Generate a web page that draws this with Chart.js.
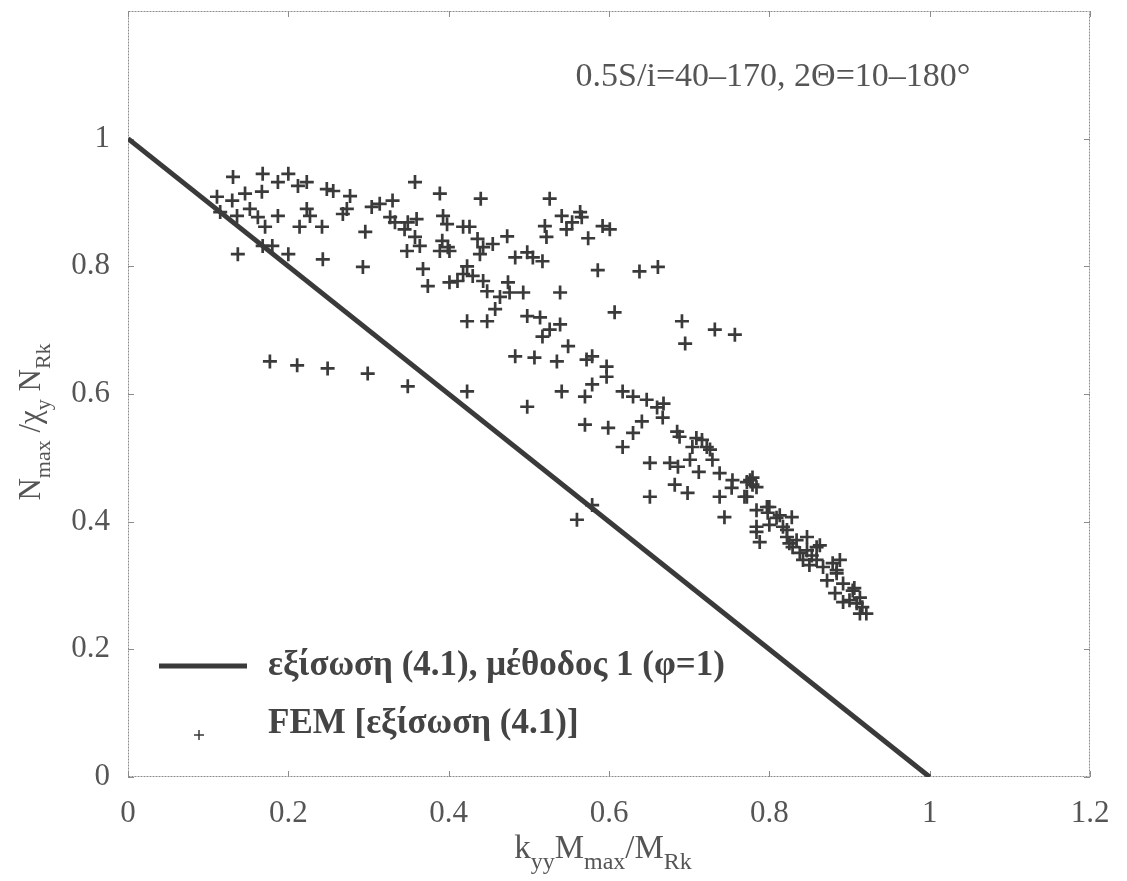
<!DOCTYPE html>
<html>
<head>
<meta charset="utf-8">
<script src="https://cdn.jsdelivr.net/npm/chart.js@4.4.0/dist/chart.umd.min.js"></script>
<style>
  html, body { margin: 0; padding: 0; background: #fff; }
  #chart { display: block; }
</style>
</head>
<body>
<canvas id="chart" width="1127" height="881"></canvas>
<script>
const xTicks = [0, 0.2, 0.4, 0.6, 0.8, 1, 1.2];
const yTicks = [0, 0.2, 0.4, 0.6, 0.8, 1];

// equation (4.1), method 1 (phi = 1)
const lineX = [0, 1];
const lineY = [1, 0];

// FEM results
const femX = [
  0.131, 0.168, 0.187, 0.200, 0.212, 0.223, 0.248, 0.256, 0.277, 0.273, 0.268, 0.111, 0.130, 0.146, 0.167,
  0.115, 0.136, 0.152, 0.162, 0.171, 0.187, 0.223, 0.227, 0.214, 0.242, 0.137, 0.168, 0.180, 0.200, 0.243,
  0.177, 0.211, 0.249, 0.299,
  0.358, 0.389, 0.440, 0.304, 0.314, 0.330, 0.327, 0.333, 0.349, 0.360, 0.393, 0.398, 0.418, 0.426, 0.345,
  0.358, 0.364, 0.296, 0.392, 0.399, 0.389, 0.401, 0.436, 0.443, 0.455, 0.439, 0.473, 0.348, 0.293, 0.368,
  0.423, 0.418, 0.430, 0.483, 0.374, 0.401, 0.411, 0.443, 0.448, 0.474, 0.476, 0.464, 0.458, 0.423, 0.448,
  0.498, 0.514, 0.526, 0.539, 0.517, 0.549, 0.483, 0.507, 0.535, 0.349, 0.423, 0.541, 0.493, 0.539,
  0.526, 0.541, 0.564, 0.566, 0.520, 0.522, 0.547, 0.554, 0.592, 0.601, 0.574, 0.498, 0.505, 0.517,
  0.586, 0.638, 0.661, 0.607, 0.691, 0.732, 0.757, 0.695, 0.572, 0.597, 0.597, 0.570, 0.579, 0.498, 0.617,
  0.630, 0.647, 0.660, 0.667, 0.570, 0.599, 0.630, 0.641, 0.685, 0.709, 0.617,
  0.579, 0.651, 0.676, 0.686, 0.704, 0.716, 0.726, 0.729, 0.701, 0.738, 0.754, 0.776, 0.784, 0.797, 0.682,
  0.698, 0.651, 0.738, 0.744, 0.560, 0.579, 0.784, 0.788,
  0.688, 0.722, 0.753, 0.772, 0.784, 0.809, 0.828, 0.784, 0.800, 0.817, 0.822, 0.834, 0.847, 0.859, 0.829,
  0.847, 0.842, 0.859, 0.867, 0.879, 0.888, 0.884, 0.892, 0.904, 0.900, 0.913, 0.916, 0.921,
  0.822, 0.825, 0.838, 0.853, 0.850, 0.872, 0.882, 0.892, 0.909, 0.913,
  0.772, 0.779, 0.798, 0.779, 0.769, 0.800, 0.813, 0.863, 0.884, 0.906, 0.668, 0.712
];
const femY = [
  0.940, 0.945, 0.932, 0.945, 0.926, 0.932, 0.921, 0.918, 0.910, 0.890, 0.882, 0.909, 0.903, 0.914, 0.917,
  0.885, 0.879, 0.890, 0.877, 0.862, 0.879, 0.890, 0.879, 0.862, 0.862, 0.819, 0.832, 0.832, 0.819, 0.811,
  0.651, 0.645, 0.640, 0.632,
  0.932, 0.914, 0.906, 0.893, 0.898, 0.903, 0.877, 0.869, 0.869, 0.874, 0.879, 0.866, 0.862, 0.862, 0.858,
  0.846, 0.832, 0.854, 0.840, 0.830, 0.824, 0.824, 0.843, 0.830, 0.835, 0.819, 0.847, 0.824, 0.799, 0.796,
  0.800, 0.788, 0.785, 0.814, 0.769, 0.775, 0.777, 0.777, 0.761, 0.775, 0.759, 0.752, 0.733, 0.714, 0.714,
  0.722, 0.720, 0.701, 0.709, 0.690, 0.675, 0.659, 0.657, 0.651, 0.612, 0.604, 0.604, 0.759, 0.759,
  0.906, 0.879, 0.885, 0.877, 0.863, 0.846, 0.858, 0.869, 0.863, 0.858, 0.844, 0.822, 0.814, 0.808,
  0.794, 0.792, 0.799, 0.728, 0.714, 0.701, 0.693, 0.679, 0.654, 0.643, 0.627, 0.596, 0.615, 0.580, 0.604,
  0.596, 0.591, 0.579, 0.563, 0.552, 0.547, 0.539, 0.557, 0.541, 0.531, 0.517,
  0.659, 0.492, 0.492, 0.486, 0.517, 0.528, 0.513, 0.497, 0.497, 0.476, 0.465, 0.465, 0.454, 0.423, 0.458,
  0.445, 0.439, 0.439, 0.407, 0.403, 0.426, 0.384, 0.368,
  0.533, 0.517, 0.453, 0.439, 0.418, 0.406, 0.407, 0.392, 0.395, 0.392, 0.376, 0.371, 0.376, 0.360, 0.360,
  0.355, 0.340, 0.340, 0.329, 0.335, 0.340, 0.319, 0.303, 0.292, 0.277, 0.281, 0.266, 0.256,
  0.387, 0.366, 0.351, 0.347, 0.332, 0.308, 0.288, 0.274, 0.272, 0.256,
  0.462, 0.469, 0.414, 0.458, 0.439, 0.423, 0.410, 0.363, 0.324, 0.296, 0.585, 0.478
];

const SERIF = '"Liberation Serif", "DejaVu Serif", serif';
const INK = '#3a3a3a';

// text with subscripts: parts = [[text, isSub], ...]
function richText(ctx, parts, cx, cy, size) {
  const big = size + 'px ' + SERIF;
  const small = Math.round(size * 0.72) + 'px ' + SERIF;
  let w = 0;
  parts.forEach(p => { ctx.font = p[1] ? small : big; w += ctx.measureText(p[0]).width; });
  let xx = cx - w / 2;
  parts.forEach(p => {
    ctx.font = p[1] ? small : big;
    ctx.fillText(p[0], xx, cy + (p[1] ? size * 0.32 : 0));
    xx += ctx.measureText(p[0]).width;
  });
}

const decor = {
  id: 'decor',
  beforeDatasetsDraw(chart) {
    const { ctx, chartArea: a, scales: { x, y } } = chart;
    ctx.save();
    ctx.strokeStyle = '#8c8c8c';
    ctx.lineWidth = 1;
    ctx.setLineDash([2, 1]);
    ctx.strokeRect(a.left + 0.5, a.top + 0.5, a.right - a.left - 1, a.bottom - a.top - 1);
    ctx.setLineDash([]);
    ctx.beginPath();
    xTicks.forEach(v => {
      const px = Math.round(x.getPixelForValue(v)) + 0.5;
      ctx.moveTo(px, a.bottom); ctx.lineTo(px, a.bottom - 6);
      ctx.moveTo(px, a.top); ctx.lineTo(px, a.top + 6);
    });
    yTicks.forEach(v => {
      const py = Math.round(y.getPixelForValue(v)) + 0.5;
      ctx.moveTo(a.left, py); ctx.lineTo(a.left + 6, py);
      ctx.moveTo(a.right, py); ctx.lineTo(a.right - 6, py);
    });
    ctx.stroke();
    ctx.restore();
  },
  afterDraw(chart) {
    const { ctx } = chart;
    ctx.save();
    ctx.fillStyle = '#555';
    ctx.textBaseline = 'alphabetic';

    // annotation
    ctx.font = '34px ' + SERIF;
    ctx.textAlign = 'center';
    ctx.fillText('0.5S/i=40\u2013170, 2\u0398=10\u2013180\u00b0', 773, 86);

    // axis titles
    ctx.textAlign = 'left';
    richText(ctx, [['k', 0], ['yy', 1], ['M', 0], ['max', 1], ['/M', 0], ['Rk', 1]], 603, 858, 33);
    ctx.save();
    ctx.translate(30, 422);
    ctx.rotate(-Math.PI / 2);
    richText(ctx, [['N', 0], ['max', 1], [' /\u03c7', 0], ['y', 1], [' N', 0], ['Rk', 1]], 0, 10, 31);
    ctx.restore();

    // legend
    ctx.strokeStyle = INK;
    ctx.lineWidth = 5;
    ctx.beginPath();
    ctx.moveTo(159, 666); ctx.lineTo(247, 666);
    ctx.stroke();
    ctx.lineWidth = 1.5;
    ctx.beginPath();
    ctx.moveTo(194, 735); ctx.lineTo(204, 735);
    ctx.moveTo(199, 730); ctx.lineTo(199, 740);
    ctx.stroke();
    ctx.fillStyle = '#444';
    ctx.font = 'bold 35px ' + SERIF;
    ctx.textBaseline = 'middle';
    ctx.fillText('\u03b5\u03be\u03af\u03c3\u03c9\u03c3\u03b7 (4.1), \u03bc\u03ad\u03b8\u03bf\u03b4\u03bf\u03c2 1 (\u03c6=1)', 268, 666);
    ctx.fillText('FEM [\u03b5\u03be\u03af\u03c3\u03c9\u03c3\u03b7 (4.1)]', 268, 724);
    ctx.restore();
  }
};

const tickFont = { family: SERIF, size: 31 };

new Chart(document.getElementById('chart'), {
  type: 'scatter',
  data: {
    datasets: [
      {
        label: 'FEM [εξίσωση (4.1)]',
        data: femX.map((v, i) => ({ x: v, y: femY[i] })),
        pointStyle: 'cross',
        pointRadius: 7,
        pointBorderWidth: 2.7,
        borderColor: '#3a3a3a',
        backgroundColor: '#3a3a3a'
      },
      {
        label: 'εξίσωση (4.1), μέθοδος 1 (φ=1)',
        data: lineX.map((v, i) => ({ x: v, y: lineY[i] })),
        showLine: true,
        pointRadius: 0,
        borderWidth: 5,
        borderColor: INK
      }
    ]
  },
  options: {
    responsive: false,
    animation: false,
    events: [],
    layout: { padding: { left: 0, right: 37, top: 11, bottom: 0 } },
    plugins: { legend: { display: false }, tooltip: { enabled: false } },
    scales: {
      x: {
        type: 'linear',
        min: 0,
        max: 1.2,
        grid: { display: false },
        border: { display: false },
        afterBuildTicks: s => { s.ticks = xTicks.map(v => ({ value: v })); },
        afterFit: s => { s.height = 104; s.paddingLeft = 0; s.paddingRight = 0; },
        ticks: { font: tickFont, color: '#555', padding: 10, maxRotation: 0, callback: v => String(v) }
      },
      y: {
        type: 'linear',
        min: 0,
        max: 1.2,
        grid: { display: false },
        border: { display: false },
        afterBuildTicks: s => { s.ticks = yTicks.map(v => ({ value: v })); },
        afterFit: s => { s.width = 128; s.paddingTop = 0; s.paddingBottom = 0; },
        ticks: { font: tickFont, color: '#555', padding: 10, callback: v => String(v) }
      }
    }
  },
  plugins: [decor]
});
</script>
</body>
</html>
